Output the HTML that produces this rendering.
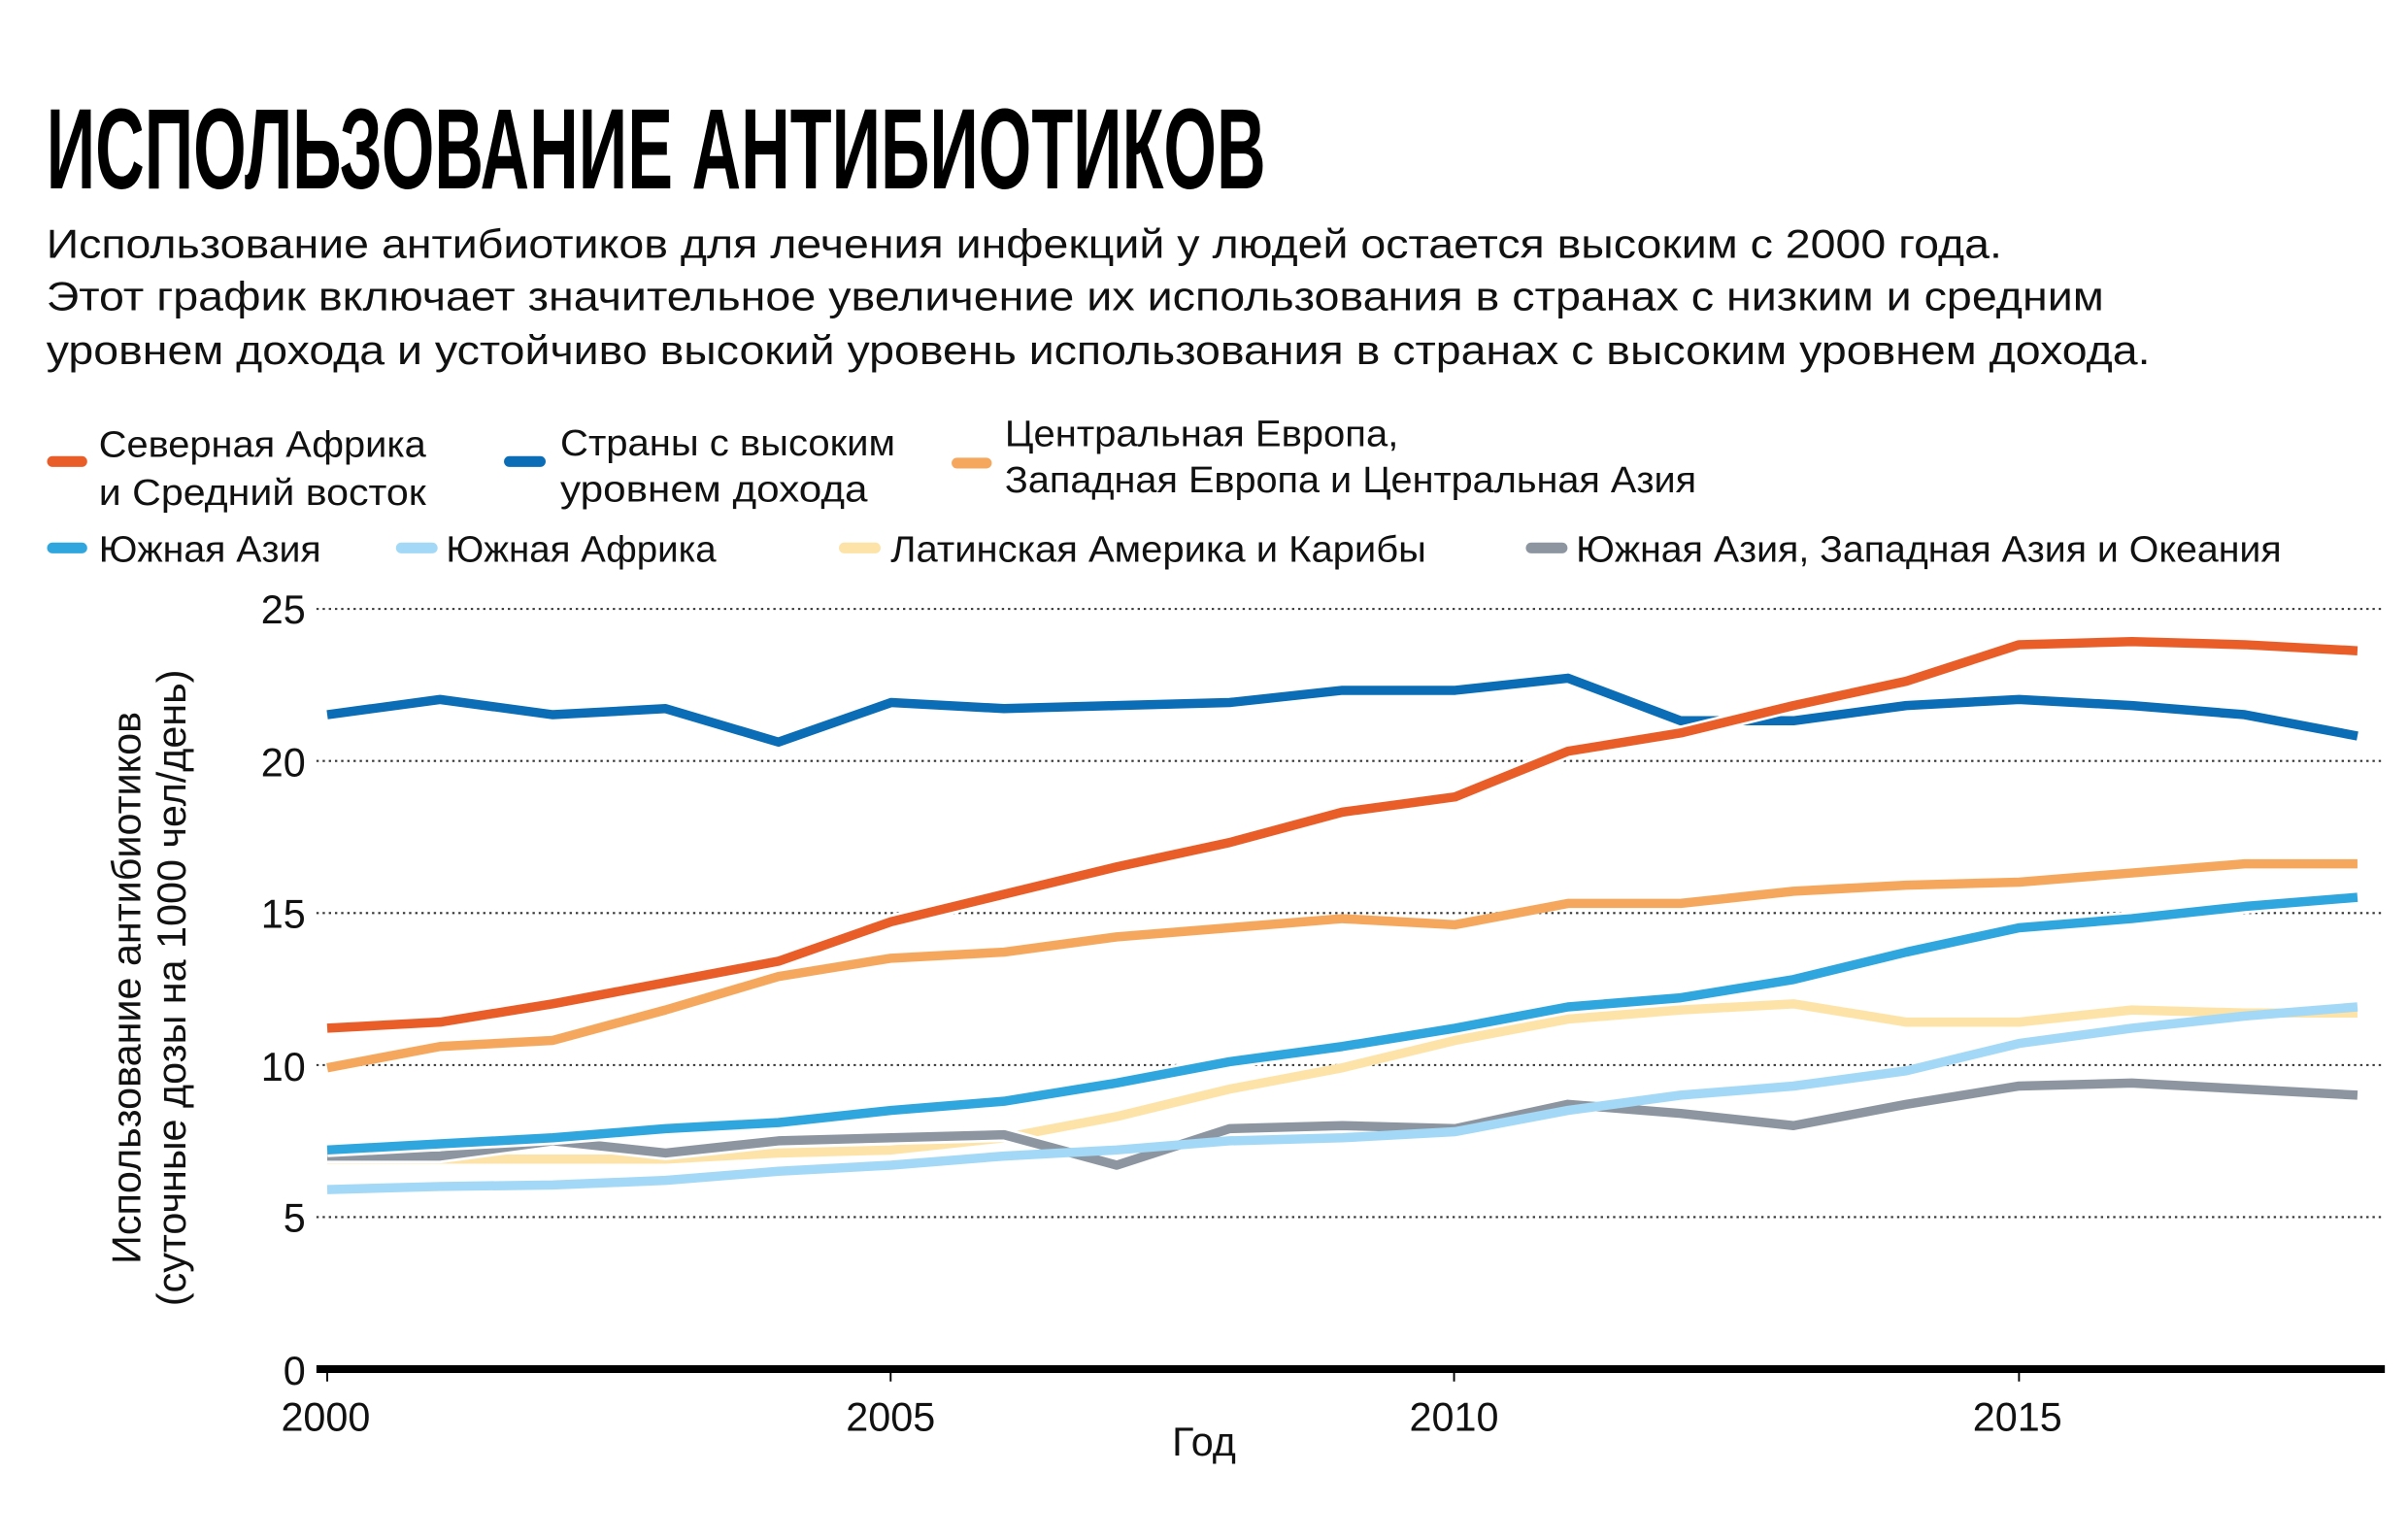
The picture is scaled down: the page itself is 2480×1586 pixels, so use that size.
<!DOCTYPE html>
<html><head><meta charset="utf-8"><style>
html,body{margin:0;padding:0;background:#fff}
svg{display:block}
text{font-family:"Liberation Sans","DejaVu Sans",sans-serif;fill:#111}
</style></head><body>
<svg width="2480" height="1586" viewBox="0 0 1560 997.7" preserveAspectRatio="none" xmlns="http://www.w3.org/2000/svg">
<rect width="1560" height="998" fill="#fff"/>
<text x="30" y="122" font-size="74" font-weight="bold" textLength="790" lengthAdjust="spacingAndGlyphs" style="fill:#000">ИСПОЛЬЗОВАНИЕ АНТИБИОТИКОВ</text>
<text x="30" y="167" font-size="26" textLength="1267" lengthAdjust="spacingAndGlyphs">Использование антибиотиков для лечения инфекций у людей остается высоким с 2000 года.</text>
<text x="30" y="201" font-size="26" textLength="1333" lengthAdjust="spacingAndGlyphs">Этот график включает значительное увеличение их использования в странах с низким и средним</text>
<text x="30" y="236" font-size="26" textLength="1363" lengthAdjust="spacingAndGlyphs">уровнем дохода и устойчиво высокий уровень использования в странах с высоким уровнем дохода.</text>
<g stroke-width="7" stroke-linecap="round">
<line x1="34" y1="299" x2="53" y2="299" stroke="#e95d29"/>
<line x1="330" y1="299" x2="350" y2="299" stroke="#0a6db6"/>
<line x1="620" y1="300" x2="639" y2="300" stroke="#f5a85d"/>
<line x1="34" y1="355" x2="53" y2="355" stroke="#30a6df"/>
<line x1="260" y1="355" x2="280" y2="355" stroke="#a3d9f6"/>
<line x1="547" y1="355" x2="567" y2="355" stroke="#fde3a8"/>
<line x1="992" y1="355" x2="1012" y2="355" stroke="#8d96a0"/>
</g>
<g font-size="24">
<text x="64" y="296" textLength="212" lengthAdjust="spacingAndGlyphs">Северная Африка</text>
<text x="64" y="327" textLength="212" lengthAdjust="spacingAndGlyphs">и Средний восток</text>
<text x="363" y="295" textLength="217" lengthAdjust="spacingAndGlyphs">Страны с высоким</text>
<text x="363" y="325" textLength="199" lengthAdjust="spacingAndGlyphs">уровнем  дохода</text>
<text x="651" y="289" textLength="255" lengthAdjust="spacingAndGlyphs">Центральная Европа,</text>
<text x="651" y="319" textLength="448" lengthAdjust="spacingAndGlyphs">Западная Европа и Центральная Азия</text>
<text x="64" y="364" textLength="144" lengthAdjust="spacingAndGlyphs">Южная Азия</text>
<text x="289" y="364" textLength="175" lengthAdjust="spacingAndGlyphs">Южная Африка</text>
<text x="577" y="364" textLength="347" lengthAdjust="spacingAndGlyphs">Латинская Америка и Карибы</text>
<text x="1021" y="364" textLength="457" lengthAdjust="spacingAndGlyphs">Южная Азия, Западная Азия и Океания</text>
</g>
<g stroke="#333" stroke-width="1.3" stroke-dasharray="1.5 2.5">
<line x1="205" y1="394.5" x2="1545" y2="394.5"/>
<line x1="205" y1="493" x2="1545" y2="493"/>
<line x1="205" y1="591.5" x2="1545" y2="591.5"/>
<line x1="205" y1="690" x2="1545" y2="690"/>
<line x1="205" y1="788.5" x2="1545" y2="788.5"/>
</g>
<g font-size="26" text-anchor="end">
<text x="198" y="404">25</text><text x="198" y="503">20</text><text x="198" y="601">15</text>
<text x="198" y="700">10</text><text x="198" y="798">5</text><text x="198" y="897">0</text>
</g>
<g font-size="26" text-anchor="middle">
<text x="211" y="927">2000</text><text x="577" y="927">2005</text><text x="942" y="927">2010</text><text x="1307" y="927">2015</text>
<text x="780" y="943">Год</text>
</g>
<g font-size="26" text-anchor="middle">
<text transform="translate(91,640) rotate(-90)">Использование антибиотиков</text>
<text transform="translate(120,640) rotate(-90)">(суточные дозы на 1000 чел/день)</text>
</g>
<g transform="translate(212,887) scale(73.07,-19.72)" fill="none" stroke-linejoin="round">
<polyline vector-effect="non-scaling-stroke" stroke-width="9.5" stroke="#fde3a8" points="0,6.9 1,6.9 2,6.9 3,6.9 4,7.1 5,7.2 6,7.6 7,8.3 8,9.2 9,9.9 10,10.8 11,11.5 12,11.8 13,12.0 14,11.4 15,11.4 16,11.8 17,11.7 18,11.7"/>
<polyline vector-effect="non-scaling-stroke" stroke-width="15" stroke="#fff" points="0,7.0 1,7.0 2,7.5 3,7.1 4,7.5 5,7.6 6,7.7 7,6.7 8,7.9 9,8.0 10,7.9 11,8.7 12,8.4 13,8.0 14,8.7 15,9.3 16,9.4 17,9.2 18,9.0"/>
<polyline vector-effect="non-scaling-stroke" stroke-width="9.5" stroke="#8d96a0" points="0,7.0 1,7.0 2,7.5 3,7.1 4,7.5 5,7.6 6,7.7 7,6.7 8,7.9 9,8.0 10,7.9 11,8.7 12,8.4 13,8.0 14,8.7 15,9.3 16,9.4 17,9.2 18,9.0"/>
<polyline vector-effect="non-scaling-stroke" stroke-width="9.5" stroke="#a3d9f6" points="0,5.9 1,6.0 2,6.05 3,6.2 4,6.5 5,6.7 6,7.0 7,7.2 8,7.5 9,7.6 10,7.8 11,8.5 12,9.0 13,9.3 14,9.8 15,10.7 16,11.2 17,11.6 18,11.9"/>
<polyline vector-effect="non-scaling-stroke" stroke-width="15" stroke="#fff" points="0,7.2 1,7.4 2,7.6 3,7.9 4,8.1 5,8.5 6,8.8 7,9.4 8,10.1 9,10.6 10,11.2 11,11.9 12,12.2 13,12.8 14,13.7 15,14.5 16,14.8 17,15.2 18,15.5"/>
<polyline vector-effect="non-scaling-stroke" stroke-width="9.5" stroke="#30a6df" points="0,7.2 1,7.4 2,7.6 3,7.9 4,8.1 5,8.5 6,8.8 7,9.4 8,10.1 9,10.6 10,11.2 11,11.9 12,12.2 13,12.8 14,13.7 15,14.5 16,14.8 17,15.2 18,15.5"/>
<polyline vector-effect="non-scaling-stroke" stroke-width="9.5" stroke="#f5a85d" points="0,9.9 1,10.6 2,10.8 3,11.8 4,12.9 5,13.5 6,13.7 7,14.2 8,14.5 9,14.8 10,14.6 11,15.3 12,15.3 13,15.7 14,15.9 15,16.0 16,16.3 17,16.6 18,16.6"/>
<polyline vector-effect="non-scaling-stroke" stroke-width="9.5" stroke="#0a6db6" points="0,21.5 1,22.0 2,21.5 3,21.7 4,20.6 5,21.9 6,21.7 7,21.8 8,21.9 9,22.3 10,22.3 11,22.7 12,21.3 13,21.3 14,21.8 15,22.0 16,21.8 17,21.5 18,20.8"/>
<polyline vector-effect="non-scaling-stroke" stroke-width="15" stroke="#fff" points="0,11.2 1,11.4 2,12.0 3,12.7 4,13.4 5,14.7 6,15.6 7,16.5 8,17.3 9,18.3 10,18.8 11,20.3 12,20.9 13,21.8 14,22.6 15,23.8 16,23.9 17,23.8 18,23.6"/>
<polyline vector-effect="non-scaling-stroke" stroke-width="9.5" stroke="#e95d29" points="0,11.2 1,11.4 2,12.0 3,12.7 4,13.4 5,14.7 6,15.6 7,16.5 8,17.3 9,18.3 10,18.8 11,20.3 12,20.9 13,21.8 14,22.6 15,23.8 16,23.9 17,23.8 18,23.6"/>
</g>
<line x1="205" y1="887" x2="1545" y2="887" stroke="#000" stroke-width="5"/>
<g stroke="#000" stroke-width="1.2">
<line x1="212" y1="887" x2="212" y2="895"/><line x1="577" y1="887" x2="577" y2="895"/>
<line x1="942" y1="887" x2="942" y2="895"/><line x1="1308" y1="887" x2="1308" y2="895"/>
</g>
</svg>
</body></html>
